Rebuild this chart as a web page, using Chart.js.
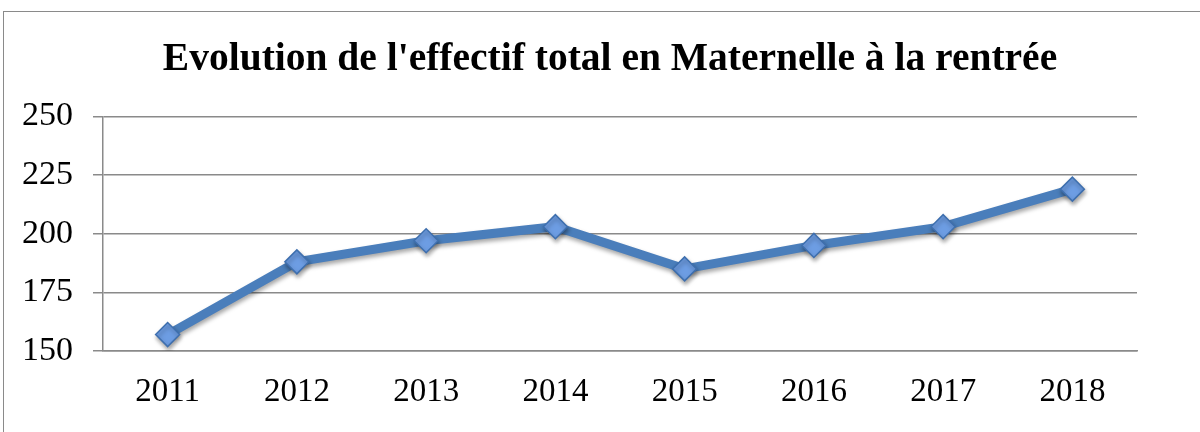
<!DOCTYPE html>
<html>
<head>
<meta charset="utf-8">
<script src="https://cdn.jsdelivr.net/npm/chart.js@4"></script>
<style>
  body { margin: 0; background: #fff; }
  #frame { position: absolute; left: 3px; top: 11px; width: 1210px; height: 430px; border: 1.5px solid #8a8a8a; box-sizing: border-box; }
  #wrap { position: absolute; left: 0; top: 0; width: 1200px; height: 432px; }
</style>
</head>
<body>
<div id="frame"></div>
<div id="wrap"><canvas id="effectif-chart"></canvas></div>
<script>
const years = ['2011', '2012', '2013', '2014', '2015', '2016', '2017', '2018'];
const effectif = [157, 188, 197, 203, 185, 195, 203, 219];
const yTicks = [150, 175, 200, 225, 250];

// ombre sous les marqueurs, comme dans l'original
const markerShadow = {
    id: 'markerShadow',
    beforeDatasetDraw(chart) {
        const ctx = chart.ctx;
        ctx.save();
        ctx.shadowColor = 'rgba(0, 0, 0, 0.35)';
        ctx.shadowBlur = 4;
        ctx.shadowOffsetX = 1;
        ctx.shadowOffsetY = 3;
    },
    afterDatasetDraw(chart) {
        chart.ctx.restore();
    }
};

const ctx = document.getElementById('effectif-chart').getContext('2d');
new Chart(ctx, {
    type: 'line',
    data: {
        labels: years,
        datasets: [
            {
                label: 'Effectif',
                data: effectif,
                fill: false,
                borderColor: '#4a7ebb',
                borderWidth: 9,
                tension: 0,
                pointStyle: 'rectRot',
                pointRadius: 12,
                pointBackgroundColor: '#6d9de3',
                pointBorderColor: '#3e6fae',
                pointBorderWidth: 1.5,
            },
        ],
    },
    plugins: [markerShadow],
    options: {
        responsive: true,
        maintainAspectRatio: false,
        animation: false,
        layout: {
            padding: { left: 20, right: 0, top: 36, bottom: 0 },
        },
        plugins: {
            legend: { display: false },
            tooltip: { enabled: false },
            title: {
                display: true,
                text: "Evolution de l'effectif total en Maternelle à la rentrée",
                color: '#000',
                font: { family: 'Liberation Serif', size: 39.5, weight: 'bold' },
                padding: { top: 0, bottom: 33 },
            },
        },
        scales: {
            x: {
                offset: true,
                grid: { display: false },
                border: { display: true, color: '#8a8a8a', width: 1.5 },
                ticks: {
                    color: '#000',
                    font: { family: 'Liberation Serif', size: 33 },
                    padding: 14,
                    maxRotation: 0,
                },
                afterFit(axis) {
                    axis.height = 81;
                },
            },
            y: {
                min: 150,
                max: 250,
                afterBuildTicks(axis) {
                    axis.ticks = yTicks.map((v) => ({ value: v }));
                },
                grid: { color: '#8a8a8a', lineWidth: 1.5, tickLength: 10 },
                border: { display: true, color: '#8a8a8a', width: 1.5 },
                ticks: {
                    color: '#000',
                    font: { family: 'Liberation Serif', size: 34 },
                    padding: 20,
                },
                afterFit(axis) {
                    axis.width = 83;
                },
            },
            // axe vide à droite pour garder la marge sans décentrer le titre
            yRight: {
                position: 'right',
                min: 150,
                max: 250,
                grid: { display: false },
                border: { display: false },
                ticks: { display: false },
                afterFit(axis) {
                    axis.width = 63;
                },
            },
        },
    },
});
</script>
</body>
</html>
